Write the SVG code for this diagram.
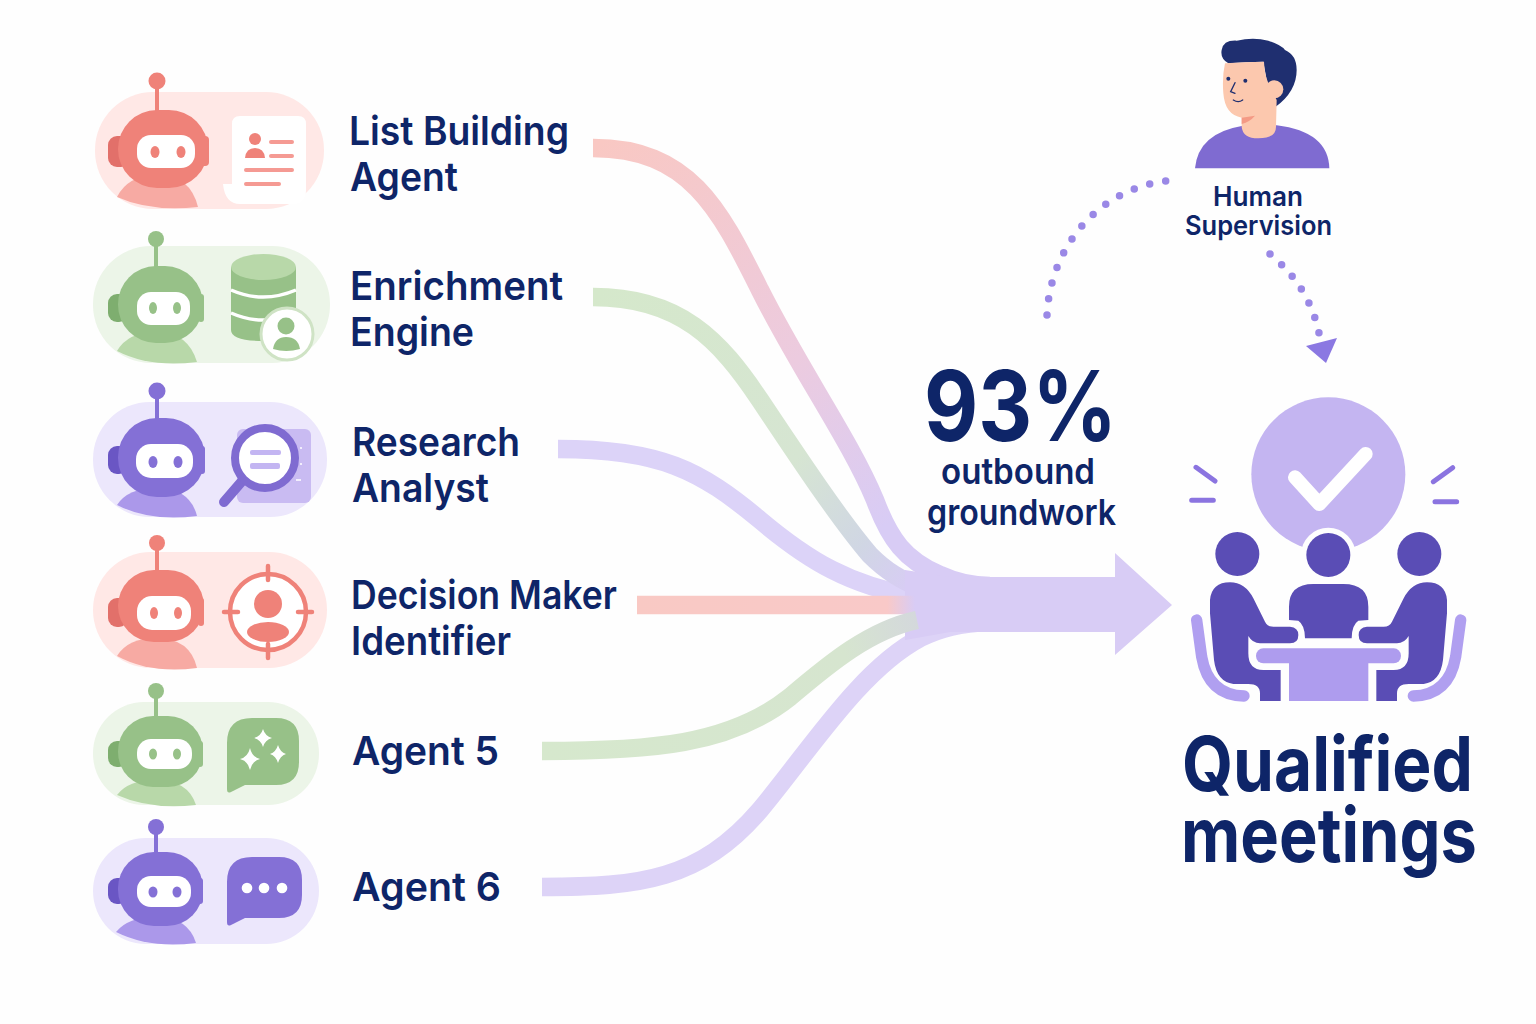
<svg xmlns="http://www.w3.org/2000/svg" width="1536" height="1024" viewBox="0 0 1536 1024">
<defs>
<style>
text{font-family:Inter,"Noto Sans","Liberation Sans",sans-serif;fill:#0e2568}
.lb{font-size:40px;font-weight:600}
.r{--p:#ffe8e6;--m:#ef8279;--d:#e2706a;--l:#f7aaa3}
.g{--p:#ecf5e8;--m:#97c188;--d:#7eae6f;--l:#b8d8a9}
.v{--p:#ece7fc;--m:#8470d6;--d:#6a56c4;--l:#ab98ea}
.pill{fill:var(--p)}
.head{fill:var(--m)}
.ear{fill:var(--d)}
.earR{fill:var(--m)}
.body{fill:var(--l)}
.ant{fill:var(--m)}
.stem{stroke:var(--m);stroke-width:4;fill:none}
.face{fill:#fff}
.eye{fill:var(--m)}
.icon{fill:var(--m)}
.flow{fill:none;stroke-width:18.500}
.dots{fill:none;stroke:#9a88e6;stroke-width:7.500;stroke-linecap:round;stroke-dasharray:0 1}
.tick{stroke:#8b74e0;stroke-width:5;stroke-linecap:round}
</style>
<linearGradient id="f1" gradientUnits="userSpaceOnUse" x1="593" y1="148" x2="915" y2="570"><stop offset="0" stop-color="#f9c8c3"/><stop offset=".55" stop-color="#eccbdf"/><stop offset=".9" stop-color="#d8ccf5"/></linearGradient>
<linearGradient id="f2" gradientUnits="userSpaceOnUse" x1="593" y1="297" x2="915" y2="585"><stop offset="0" stop-color="#d5e8cb"/><stop offset=".6" stop-color="#d6e5d2"/><stop offset=".85" stop-color="#d0d6e4"/><stop offset="1" stop-color="#d8ccf5"/></linearGradient>
<linearGradient id="f4" gradientUnits="userSpaceOnUse" x1="637" y1="605" x2="915" y2="605"><stop offset="0" stop-color="#f9c9c4"/><stop offset=".9" stop-color="#f9c9c8"/><stop offset="1" stop-color="#d8ccf5"/></linearGradient>
<linearGradient id="f5" gradientUnits="userSpaceOnUse" x1="542" y1="751" x2="917" y2="620"><stop offset="0" stop-color="#d6e8cd"/><stop offset=".8" stop-color="#d6e5cf"/><stop offset="1" stop-color="#d4d8dc"/></linearGradient>
</defs>
<rect width="1536" height="1024" fill="#fefefe"/>
<g id="connectors">
<path class="flow" stroke="#ddd3f7" d="M542,887 C640,887 700,880 760,810 C810,750 860,670 920,638 C940,628 960,623 990,622"/>
<path class="flow" stroke="#dcd3f8" d="M558,449 C660,449 700,470 760,520 C810,562 850,585 915,597"/>
<path class="flow" stroke="url(#f1)" d="M593,148 C690,148 720,210 760,290 C800,370 850,440 875,500 C890,540 905,560 940,575 C955,582 970,586 990,586"/>
<path class="flow" stroke="url(#f2)" d="M593,297 C680,297 720,340 760,400 C800,460 840,520 870,555 C885,570 900,580 925,590"/>
<path id="main-arrow" fill="#d8ccf5" d="M905,570 L950,577 L1115,577 L1115,553 L1172,605 L1115,655 L1115,632 L950,632 L905,640 Z"/>
<path class="flow" stroke="url(#f4)" stroke-width="18" d="M637,605 L915,605"/>
<path class="flow" stroke="url(#f5)" d="M542,751 C650,751 730,745 790,697 C830,663 870,630 917,620"/>
<path class="dots" pathLength="12.020" d="M1047,315 C1050,250 1095,190 1166,181"/>
<path class="dots" pathLength="6.020" d="M1270,254 C1295,275 1312,300 1319,333"/>
<polygon points="1306,346 1337,338 1326,363" fill="#8b78e2"/>
</g>
<g id="agent1" class="r">
<rect class="pill" x="95" y="92" width="229" height="117" rx="58"/>
<path class="body" d="M117,197 Q128,175 158,175 Q190,175 198,207 Q150,212 117,197Z"/>
<rect class="ear" x="108" y="136" width="22" height="31" rx="9"/>
<rect class="earR" x="200" y="136" width="9" height="30" rx="4"/>
<path class="stem" d="M157,85V112"/><circle class="ant" cx="157" cy="81" r="8.500"/>
<rect class="head" x="118" y="110" width="90" height="78" rx="39"/>
<rect class="face" x="137" y="135" width="58" height="33" rx="14"/>
<ellipse class="eye" cx="155" cy="152" rx="4.500" ry="6"/><ellipse class="eye" cx="181" cy="152" rx="4.500" ry="6"/>
<path fill="#fff" d="M240,116H298Q306,116 306,124V190Q306,204 292,204H240Q225,204 223,184H232V124Q232,116 240,116Z"/>
<circle class="icon" cx="255" cy="139" r="6"/><path class="icon" d="M245,158Q246,148 255,148Q264,148 265,158Z"/>
<g stroke="#f59a93" stroke-width="4" stroke-linecap="round"><path d="M271,142H292M271,156H292M246,170H292M246,184H279"/></g>
</g>
<g id="agent2" class="g">
<rect class="pill" x="93" y="246" width="237" height="117" rx="58"/>
<path class="body" d="M117,351 Q128,332 156,332 Q188,332 197,362 Q150,368 117,351Z"/>
<rect class="ear" x="108" y="294" width="20" height="28" rx="9"/>
<rect class="earR" x="198" y="294" width="6" height="28" rx="3"/>
<path class="stem" d="M156,243V268"/><circle class="ant" cx="156" cy="239" r="8"/>
<rect class="head" x="118" y="266" width="85" height="77" rx="38"/>
<rect class="face" x="137" y="292" width="53" height="33" rx="14"/>
<ellipse class="eye" cx="153" cy="308" rx="4" ry="6"/><ellipse class="eye" cx="177" cy="308" rx="4" ry="6"/>
<path class="icon" d="M231,267V330Q231,341 263,341Q296,341 296,330V267Z"/>
<ellipse class="body" cx="263.500" cy="267" rx="32.500" ry="13"/>
<path d="M231,290Q263,304 296,290M231,313Q263,327 296,313" stroke="#fff" stroke-width="3.500" fill="none"/>
<circle cx="287" cy="334" r="26" fill="#fff" stroke="#cfe3c5" stroke-width="3"/>
<circle class="icon" cx="286" cy="326" r="8.500"/><path class="icon" d="M273,349Q275,337 286,337Q298,337 300,349Q286,353 273,349Z"/>
</g>
<g id="agent3" class="v">
<rect class="pill" x="93" y="402" width="234" height="115" rx="57"/>
<path class="body" d="M117,505 Q128,488 156,488 Q190,488 197,516 Q150,522 117,505Z"/>
<rect class="ear" x="108" y="446" width="20" height="28" rx="9"/>
<rect class="earR" x="199" y="446" width="6" height="28" rx="3"/>
<path class="stem" d="M157,395V420"/><circle class="ant" cx="157" cy="391" r="8.500"/>
<rect class="head" x="118" y="418" width="87" height="79" rx="39"/>
<rect class="face" x="136" y="444" width="57" height="34" rx="15"/>
<ellipse class="eye" cx="153" cy="462" rx="4.500" ry="6"/><ellipse class="eye" cx="178" cy="462" rx="4.500" ry="6"/>
<rect x="237" y="429" width="74" height="74" rx="6" fill="#c9bbf2"/>
<path d="M300,448H302M300,464H302M296,480H301" stroke="#fff" stroke-width="1.500"/>
<path d="M243,480L224,502" stroke="#7f6bd1" stroke-width="10" stroke-linecap="round"/>
<circle cx="265" cy="458" r="30" fill="#fff" stroke="#7f6bd1" stroke-width="8"/>
<rect x="250" y="450" width="31" height="5" rx="2" fill="#c3b5f2"/><rect x="250" y="463" width="30" height="6" rx="2" fill="#c3b5f2"/>
</g>
<g id="agent4" class="r">
<rect class="pill" x="93" y="552" width="234" height="116" rx="58"/>
<path class="body" d="M117,656 Q128,638 156,638 Q190,638 197,668 Q150,674 117,656Z"/>
<rect class="ear" x="108" y="598" width="20" height="29" rx="9"/>
<rect class="earR" x="198" y="598" width="6" height="28" rx="3"/>
<path class="stem" d="M157,547V572"/><circle class="ant" cx="157" cy="543" r="8"/>
<rect class="head" x="118" y="570" width="86" height="72" rx="36"/>
<rect class="face" x="137" y="596" width="54" height="34" rx="15"/>
<ellipse class="eye" cx="154" cy="613" rx="4" ry="6"/><ellipse class="eye" cx="178" cy="613" rx="4" ry="6"/>
<circle cx="268" cy="612" r="38" fill="#fff" stroke="#ef8279" stroke-width="4.500"/>
<path d="M268,566V580M268,644V658M224,612H238M298,612H312" stroke="#ef8279" stroke-width="4.500" stroke-linecap="round"/>
<circle class="icon" cx="268" cy="604" r="14"/><ellipse class="icon" cx="268" cy="632" rx="21" ry="10"/>
</g>
<g id="agent5" class="g">
<rect class="pill" x="93" y="702" width="226" height="103" rx="51"/>
<path class="body" d="M117,795 Q128,780 156,780 Q188,780 196,805 Q150,810 117,795Z"/>
<rect class="ear" x="108" y="741" width="20" height="26" rx="9"/>
<rect class="earR" x="197" y="741" width="6" height="26" rx="3"/>
<path class="stem" d="M156,695V718"/><circle class="ant" cx="156" cy="691" r="8"/>
<rect class="head" x="118" y="716" width="85" height="71" rx="35"/>
<rect class="face" x="137" y="739" width="55" height="30" rx="14"/>
<ellipse class="eye" cx="153" cy="754" rx="4" ry="5.500"/><ellipse class="eye" cx="177" cy="754" rx="4" ry="5.500"/>
<path class="icon" d="M252,718H276Q299,718 299,741V762Q299,785 276,785H245L231,792Q227,794 227,789V743Q227,718 252,718Z"/>
<path fill="#fff" d="M263,729Q265,736 272,738Q265,740 263,747Q261,740 254,738Q261,736 263,729ZM250,748Q252,757 260,759Q252,761 250,770Q248,761 240,759Q248,757 250,748ZM278,745Q280,752 286,754Q280,756 278,763Q276,756 270,754Q276,752 278,745Z"/>
</g>
<g id="agent6" class="v">
<rect class="pill" x="93" y="838" width="226" height="106" rx="53"/>
<path class="body" d="M116,932 Q128,917 156,917 Q188,917 196,943 Q150,949 116,932Z"/>
<rect class="ear" x="108" y="878" width="20" height="26" rx="9"/>
<rect class="earR" x="197" y="878" width="6" height="26" rx="3"/>
<path class="stem" d="M156,831V854"/><circle class="ant" cx="156" cy="827" r="8"/>
<rect class="head" x="118" y="852" width="85" height="74" rx="36"/>
<rect class="face" x="137" y="876" width="54" height="31" rx="14"/>
<ellipse class="eye" cx="153" cy="892" rx="4.500" ry="5.500"/><ellipse class="eye" cx="177" cy="892" rx="4.500" ry="5.500"/>
<path class="icon" d="M252,857H279Q302,857 302,880V895Q302,918 279,918H245L231,925Q227,927 227,922V882Q227,857 252,857Z"/>
<circle cx="247" cy="888" r="5.300" fill="#fff"/><circle cx="264" cy="888" r="5.300" fill="#fff"/><circle cx="282" cy="888" r="5.300" fill="#fff"/>
</g>
<g id="labels">
<text class="lb" x="349" y="145" textLength="220" lengthAdjust="spacingAndGlyphs">List Building</text>
<text class="lb" x="350" y="191" textLength="108" lengthAdjust="spacingAndGlyphs">Agent</text>
<text class="lb" x="350" y="300" textLength="213" lengthAdjust="spacingAndGlyphs">Enrichment</text>
<text class="lb" x="350" y="346" textLength="124" lengthAdjust="spacingAndGlyphs">Engine</text>
<text class="lb" x="352" y="456" textLength="168" lengthAdjust="spacingAndGlyphs">Research</text>
<text class="lb" x="352" y="502" textLength="137" lengthAdjust="spacingAndGlyphs">Analyst</text>
<text class="lb" x="351" y="609" textLength="266" lengthAdjust="spacingAndGlyphs">Decision Maker</text>
<text class="lb" x="351" y="655" textLength="160" lengthAdjust="spacingAndGlyphs">Identifier</text>
<text class="lb" x="352" y="765" textLength="147" lengthAdjust="spacingAndGlyphs">Agent 5</text>
<text class="lb" x="352" y="901" textLength="149" lengthAdjust="spacingAndGlyphs">Agent 6</text>
</g>
<g id="stat">
<text x="924" y="441" font-size="98" font-weight="700" textLength="193" lengthAdjust="spacingAndGlyphs">93%</text>
<text x="941" y="484" font-size="36" font-weight="600" textLength="154" lengthAdjust="spacingAndGlyphs">outbound</text>
<text x="927" y="525" font-size="36" font-weight="600" textLength="189" lengthAdjust="spacingAndGlyphs">groundwork</text>
</g>
<g id="human">
<g transform="translate(1020,20) scale(.33333)">
<path fill="#7f6bd1" d="M525,445Q535,340 665,318L770,316Q925,335 928,445Z"/>
<path fill="#1f2f70" d="M605,90Q610,60 650,62Q700,50 745,62Q785,75 795,90Q830,105 830,150Q830,215 765,262L740,180L730,125Q680,125 625,130Q600,115 605,90Z"/>
<path fill="#fcc8ae" d="M615,130Q680,125 732,125Q733,160 745,190L770,240L768,320Q768,355 715,355Q668,355 665,320L665,293Q615,285 610,220Q606,170 615,130Z"/>
<circle cx="763" cy="208" r="27" fill="#fcc8ae"/>
<path fill="#f49a85" d="M665,293L705,287Q690,305 665,312Z"/>
<circle cx="625" cy="176" r="6" fill="#1f2f70"/><circle cx="676" cy="182" r="6" fill="#1f2f70"/>
<path d="M645,188L632,215L645,220M640,240Q655,250 668,240" fill="none" stroke="#1f2f70" stroke-width="4" stroke-linecap="round"/>
</g>
<text x="1213" y="206" font-size="27" font-weight="600" textLength="90" lengthAdjust="spacingAndGlyphs">Human</text>
<text x="1185" y="235" font-size="27" font-weight="600" textLength="147" lengthAdjust="spacingAndGlyphs">Supervision</text>
</g>
<g id="qualified-meetings">
<g transform="translate(1170,380) scale(.33333)">
<circle cx="475" cy="283" r="231" fill="#c4b5f1"/>
<path d="M375,292L448,372L587,222" fill="none" stroke="#fff" stroke-width="42" stroke-linecap="round" stroke-linejoin="round"/>
<circle cx="475" cy="525" r="82" fill="#fefefe"/>
<path class="tick" style="stroke-width:15" d="M78,262L135,303M65,361H130M848,263L790,305M795,365H860"/>
<circle cx="202" cy="522" r="66" fill="#5a4db5"/><circle cx="475" cy="525" r="66" fill="#5a4db5"/><circle cx="748" cy="522" r="66" fill="#5a4db5"/>
<path fill="#5a4db5" d="M357,720V680Q357,612 430,612H520Q595,612 595,680V720L565,722Q545,735 545,775H405Q405,735 385,722Z"/>
<path id="mp" fill="#5a4db5" d="M120,660Q125,607 180,607Q225,607 250,655L285,725Q292,740 310,740H360Q385,742 385,765Q385,790 360,790H270Q248,790 235,768V820Q235,870 280,870H332V963H270V940Q270,912 235,912H190Q140,905 132,840L120,700Z"/>
<path fill="#5a4db5" transform="translate(951,0) scale(-1,1)" d="M120,660Q125,607 180,607Q225,607 250,655L285,725Q292,740 310,740H360Q385,742 385,765Q385,790 360,790H270Q248,790 235,768V820Q235,870 280,870H332V963H270V940Q270,912 235,912H190Q140,905 132,840L120,700Z"/>
<path d="M80,720L95,830Q115,945 222,948M872,720L857,830Q837,945 730,948" fill="none" stroke="#b09ff0" stroke-width="34" stroke-linecap="round"/>
<rect x="258" y="805" width="435" height="45" rx="22" fill="#ae9cee"/>
<rect x="357" y="845" width="238" height="118" fill="#ae9cee"/>
</g>
<text x="1182" y="791" font-size="76" font-weight="700" textLength="291" lengthAdjust="spacingAndGlyphs">Qualified</text>
<text x="1181" y="862" font-size="76" font-weight="700" textLength="296" lengthAdjust="spacingAndGlyphs">meetings</text>
</g>
</svg>
